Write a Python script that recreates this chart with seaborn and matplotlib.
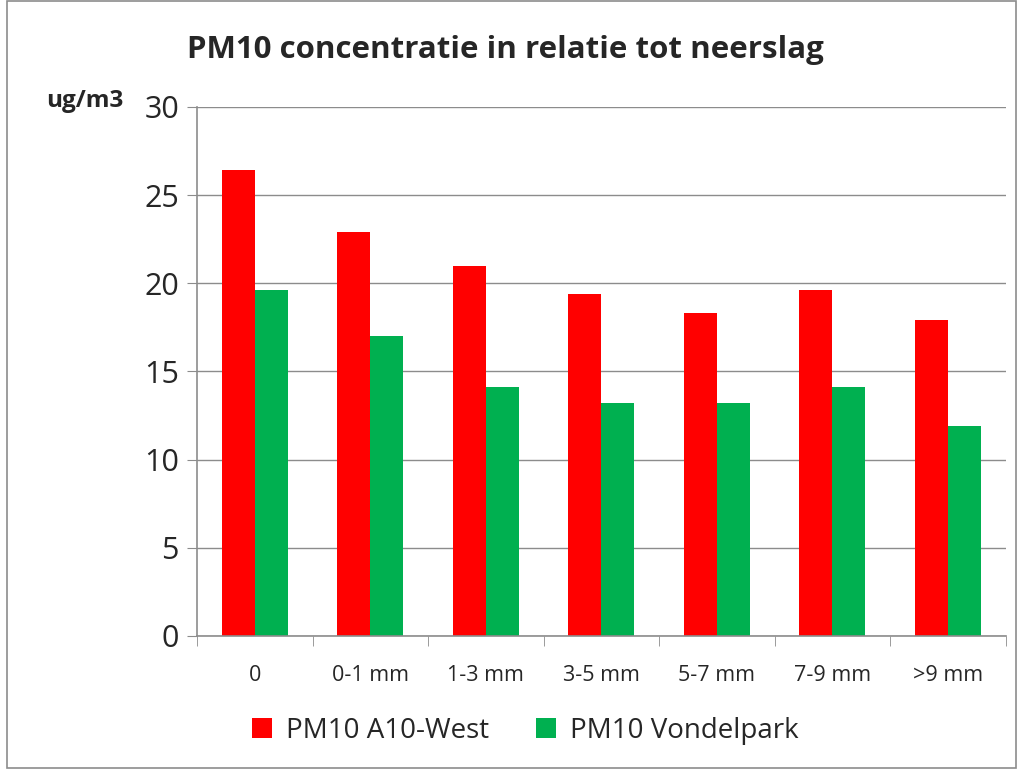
import matplotlib
matplotlib.use("Agg")
import matplotlib.pyplot as plt
import seaborn as sns
import pandas as pd
from matplotlib.patches import Patch

categories = ["0", "0-1 mm", "1-3 mm", "3-5 mm", "5-7 mm", "7-9 mm", ">9 mm"]
a10_west = [26.4, 22.9, 21.0, 19.4, 18.3, 19.6, 17.9]
vondelpark = [19.6, 17.0, 14.1, 13.2, 13.2, 14.1, 11.9]
series_names = ["PM10 A10-West", "PM10 Vondelpark"]
colors = ["#FF0000", "#00B050"]

df = pd.DataFrame({
    "cat": categories * 2,
    "value": a10_west + vondelpark,
    "series": [series_names[0]] * len(categories) + [series_names[1]] * len(categories),
})

sns.set_style("white")
plt.rcParams["font.family"] = ["Open Sans", "DejaVu Sans"]

fig = plt.figure(figsize=(10.24, 7.69), dpi=100)
ax = fig.add_axes([0.1924, 0.173, 0.7896, 0.688])

sns.barplot(data=df, x="cat", y="value", hue="series", palette=colors,
            width=0.57, dodge=True, ax=ax, legend=False, saturation=1,
            edgecolor="none")

ax.set_ylim(0, 30)
ax.set_xlim(-0.5, len(categories) - 0.5)
ax.set_yticks(range(0, 31, 5))
ax.yaxis.grid(True, color="#8C8C8C", linewidth=1)
ax.set_axisbelow(True)
for s in ["top", "right"]:
    ax.spines[s].set_visible(False)
for s in ["left", "bottom"]:
    ax.spines[s].set_color("#8C8C8C")
    ax.spines[s].set_linewidth(1.2)
ax.set_xlabel("")
ax.set_ylabel("")
ax.tick_params(axis="y", labelsize=22, length=7, color="#8C8C8C", direction="out", pad=6, left=True)
ax.set_xticks(range(len(categories)))
ax.set_xticklabels(categories)
ax.tick_params(axis="x", labelsize=15.5, length=0, pad=21)
ax.set_xticks([i - 0.5 for i in range(len(categories) + 1)], minor=True)
ax.tick_params(axis="x", which="minor", length=7, color="#8C8C8C", direction="out", bottom=True)

fig.text(0.494, 0.935, "PM10 concentratie in relatie tot neerslag", ha="center", va="center",
         fontsize=22.5, fontweight="bold")
fig.text(0.083, 0.869, "ug/m3", ha="center", va="center", fontsize=17.5, fontweight="bold")

handles = [Patch(facecolor=c, edgecolor="none") for c in colors]
fig.legend(handles, series_names, loc="center", bbox_to_anchor=(0.513, 0.05), ncol=2,
           frameon=False, fontsize=20, handlelength=0.7, handleheight=0.7,
           handletextpad=0.5, columnspacing=1.7)

border = plt.Rectangle((0.007, 0.001), 0.985, 0.998, transform=fig.transFigure,
                       fill=False, edgecolor="#8C8C8C", linewidth=1.2)
fig.patches.append(border)

fig.savefig("out.png", dpi=100)
